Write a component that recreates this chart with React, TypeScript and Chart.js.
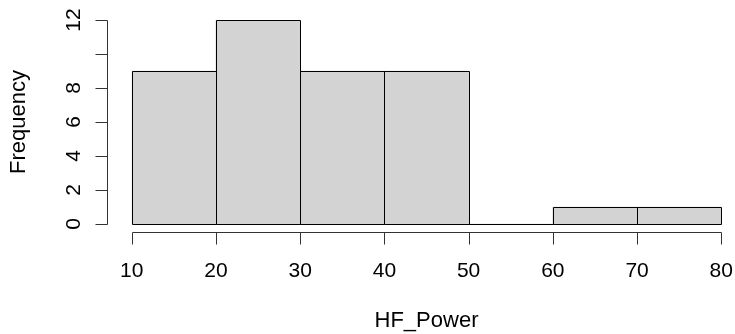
import React, { useEffect, useRef } from "react";
import { Chart, registerables } from "chart.js";

Chart.register(...registerables);

const binStarts = [10, 20, 30, 40, 50, 60, 70];
const binEnds = [20, 30, 40, 50, 60, 70, 80];
const frequencies = [9, 12, 9, 9, 0, 1, 1];
const xTicks = [10, 20, 30, 40, 50, 60, 70, 80];
const yTicks = [0, 2, 4, 6, 8, 10, 12];
const yTickLabels = ["0", "2", "4", "6", "8", "", "12"];
const xTitle = "HF_Power";
const yTitle = "Frequency";

const FONT = '"Liberation Sans", Arial, sans-serif';
const TICK_FONT_SIZE = 21;
const TITLE_FONT_SIZE = 22;

const rStylePlugin = {
  id: "rStyle",
  afterDatasetsDraw(chart: any) {
    const ctx = chart.ctx;
    const xs = chart.scales.x;
    const ys = chart.scales.y;
    const meta = chart.getDatasetMeta(0);
    ctx.save();
    ctx.strokeStyle = "#000";
    ctx.lineWidth = 1;
    // bar outlines (including zero-height bins)
    meta.data.forEach((el: any) => {
      const props = el.getProps(["x", "y", "base", "width"], true);
      const l = Math.round(props.x - props.width / 2) + 0.5;
      const r = Math.round(props.x + props.width / 2) + 0.5;
      const t = Math.round(props.y) + 0.5;
      const b = Math.round(props.base) + 0.5;
      ctx.beginPath();
      ctx.rect(l, t, r - l, b - t);
      ctx.stroke();
    });

    const xMin = xTicks[0];
    const xMax = xTicks[xTicks.length - 1];
    const yMin = yTicks[0];
    const yMax = yTicks[yTicks.length - 1];
    const axisY = Math.round(ys.getPixelForValue(yMin - 0.04 * (yMax - yMin))) + 0.5;
    const axisX = Math.round(xs.getPixelForValue(xMin - 0.04 * (xMax - xMin))) - 0.5;
    const tickLen = 12;

    ctx.strokeStyle = "#333";
    // x axis
    ctx.beginPath();
    ctx.moveTo(Math.round(xs.getPixelForValue(xMin)) + 0.5, axisY);
    ctx.lineTo(Math.round(xs.getPixelForValue(xMax)) + 0.5, axisY);
    xTicks.forEach((v) => {
      const px = Math.round(xs.getPixelForValue(v)) + 0.5;
      ctx.moveTo(px, axisY);
      ctx.lineTo(px, axisY + tickLen);
    });
    ctx.stroke();
    // y axis
    ctx.beginPath();
    ctx.moveTo(axisX, Math.round(ys.getPixelForValue(yMin)) + 0.5);
    ctx.lineTo(axisX, Math.round(ys.getPixelForValue(yMax)) + 0.5);
    yTicks.forEach((v) => {
      const py = Math.round(ys.getPixelForValue(v)) + 0.5;
      ctx.moveTo(axisX, py);
      ctx.lineTo(axisX - tickLen, py);
    });
    ctx.stroke();

    ctx.fillStyle = "#000";
    ctx.font = `${TICK_FONT_SIZE}px ${FONT}`;
    ctx.textAlign = "center";
    ctx.textBaseline = "alphabetic";
    xTicks.forEach((v) => {
      ctx.fillText(String(v), xs.getPixelForValue(v), axisY + 44);
    });
    yTicks.forEach((v, i) => {
      const label = yTickLabels[i];
      if (!label) return;
      ctx.save();
      ctx.translate(axisX - 28, ys.getPixelForValue(v));
      ctx.rotate(-Math.PI / 2);
      ctx.fillText(label, 0, 0);
      ctx.restore();
    });
    // titles
    ctx.font = `${TITLE_FONT_SIZE}px ${FONT}`;
    ctx.fillText(xTitle, xs.getPixelForValue((xMin + xMax) / 2), axisY + 94);
    ctx.save();
    ctx.translate(axisX - 83, ys.getPixelForValue((yMin + yMax) / 2));
    ctx.rotate(-Math.PI / 2);
    ctx.fillText(yTitle, 0, 0);
    ctx.restore();
    ctx.restore();
  },
};

export default function App() {
  const canvasRef = useRef<HTMLCanvasElement | null>(null);

  useEffect(() => {
    if (!canvasRef.current) return;
    const data = binStarts.map((s, i) => ({ x: (s + binEnds[i]) / 2, y: frequencies[i] }));
    const chart = new Chart(canvasRef.current, {
      type: "bar",
      data: {
        datasets: [
          {
            data: data as any,
            backgroundColor: "#D3D3D3",
            borderWidth: 0,
            barPercentage: 1,
            categoryPercentage: 1,
          },
        ],
      },
      options: {
        responsive: false,
        animation: false,
        devicePixelRatio: 1,
        layout: { padding: { left: 131.7, right: 13.7, top: 20, bottom: 110 } },
        scales: {
          x: {
            type: "linear",
            min: xTicks[0],
            max: xTicks[xTicks.length - 1],
            offset: false,
            display: false,
          },
          y: {
            type: "linear",
            min: yTicks[0],
            max: yTicks[yTicks.length - 1],
            display: false,
          },
        },
        plugins: {
          legend: { display: false },
          tooltip: { enabled: false },
        },
      },
      plugins: [rStylePlugin],
    });
    return () => chart.destroy();
  }, []);

  return (
    <div style={{ position: "absolute", left: 0, top: 0, width: 735, height: 334, background: "#fff" }}>
      <canvas ref={canvasRef} width={735} height={334} />
    </div>
  );
}
